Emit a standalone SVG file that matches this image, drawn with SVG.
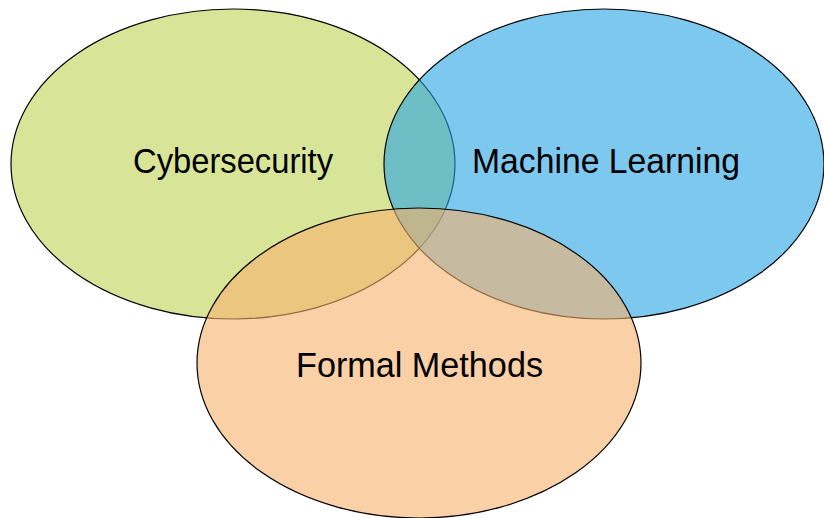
<svg xmlns="http://www.w3.org/2000/svg" width="824" height="518" viewBox="0 0 824 518">
  <style>
    .set { stroke: #000; stroke-width: 1.2; fill-opacity: 0.6; }
    .label { font-family: "Liberation Sans", "DejaVu Sans", sans-serif; font-size: 35px; fill: #000; text-anchor: middle; }
  </style>
  <rect width="824" height="518" fill="#fff"/>
  <g id="cybersecurity">
    <ellipse class="set" cx="233" cy="164" rx="222" ry="155" fill="#bed453"/>
    <text class="label" x="233" y="173" textLength="200" lengthAdjust="spacingAndGlyphs">Cybersecurity</text>
  </g>
  <g id="machine-learning">
    <ellipse class="set" cx="604" cy="164" rx="220" ry="155" fill="#26a3e3"/>
    <text class="label" x="606" y="173" textLength="268" lengthAdjust="spacingAndGlyphs">Machine Learning</text>
  </g>
  <g id="formal-methods">
    <ellipse class="set" cx="419" cy="363" rx="222" ry="155" fill="#f7b06c"/>
    <text class="label" x="419.5" y="377" textLength="247" lengthAdjust="spacingAndGlyphs">Formal Methods</text>
  </g>
  <g id="connectors"/>
</svg>
